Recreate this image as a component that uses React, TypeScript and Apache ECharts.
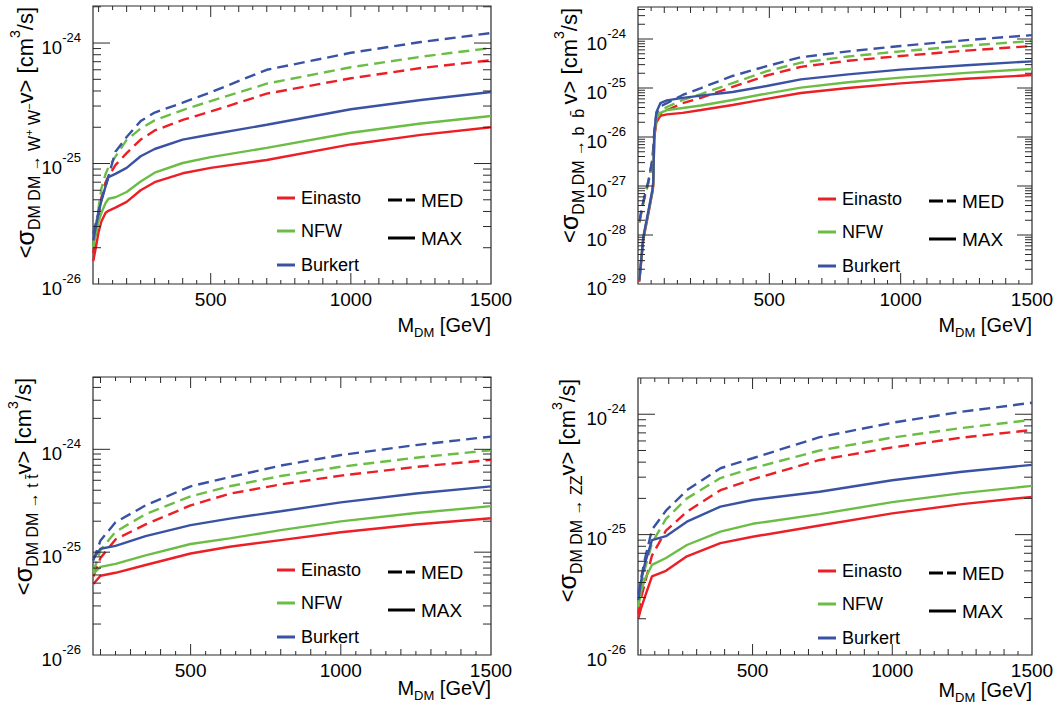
import React, { useEffect, useRef } from "react";
import * as echarts from "echarts";

const FONT = "'Liberation Sans', Arial, Helvetica, sans-serif";
const RED = "#ec1f26";
const GREEN = "#6cbd45";
const BLUE = "#3a52a3";
const FRAME = "#2a2a2a";

// ---- DM DM -> W+ W- ----
const wwMass = [81, 90, 100, 110, 125, 135, 160, 200, 250, 300, 400, 500, 700, 1000, 1250, 1500];
const wwEinastoMed = [1.8e-26, 2.6e-26, 3.7e-26, 5.2e-26, 7.0e-26, 7.8e-26, 9.7e-26, 1.22e-25, 1.58e-25, 1.88e-25, 2.3e-25, 2.7e-25, 3.8e-25, 5.1e-25, 6.2e-25, 7.2e-25];
const wwNfwMed = [2.1e-26, 3.0e-26, 4.3e-26, 6.2e-26, 8.2e-26, 9.3e-26, 1.14e-25, 1.57e-25, 1.95e-25, 2.28e-25, 2.78e-25, 3.3e-25, 4.6e-25, 6.3e-25, 7.7e-25, 9.1e-25];
const wwBurkertMed = [2.6e-26, 3.2e-26, 4.0e-26, 5.0e-26, 6.5e-26, 7.8e-26, 1.25e-25, 1.66e-25, 2.25e-25, 2.65e-25, 3.2e-25, 3.9e-25, 6.0e-25, 8.3e-25, 1.02e-24, 1.21e-24];
const wwEinastoMax = [1.55e-26, 2.0e-26, 2.7e-26, 3.3e-26, 3.9e-26, 4.05e-26, 4.3e-26, 4.8e-26, 6.0e-26, 7.0e-26, 8.3e-26, 9.2e-26, 1.07e-25, 1.44e-25, 1.73e-25, 2.0e-25];
const wwNfwMax = [2.0e-26, 2.6e-26, 3.3e-26, 3.9e-26, 4.7e-26, 5.1e-26, 5.25e-26, 5.8e-26, 7.1e-26, 8.4e-26, 1.01e-25, 1.13e-25, 1.35e-25, 1.8e-25, 2.15e-25, 2.48e-25];
const wwBurkertMax = [2.3e-26, 3.0e-26, 3.9e-26, 4.9e-26, 6.5e-26, 7.7e-26, 8.2e-26, 9.2e-26, 1.15e-25, 1.32e-25, 1.58e-25, 1.74e-25, 2.1e-25, 2.82e-25, 3.37e-25, 3.92e-25];

// ---- DM DM -> b bbar ----
const bbMass = [5, 20, 40, 55, 58, 62, 70, 85, 110, 170, 240, 360, 490, 620, 800, 1000, 1250, 1500];
const bbEinastoMed = [1.8e-28, 4.5e-28, 1.2e-27, 3.2e-27, 5.0e-27, 1.1e-26, 2.2e-26, 2.9e-26, 3.5e-26, 4.9e-26, 6.3e-26, 1.05e-25, 1.8e-25, 2.7e-25, 3.6e-25, 4.5e-25, 5.8e-25, 7.2e-25];
const bbNfwMed = [1.8e-28, 4.6e-28, 1.25e-27, 3.4e-27, 5.3e-27, 1.15e-26, 2.5e-26, 3.3e-26, 4.1e-26, 5.7e-26, 7.5e-26, 1.26e-25, 2.2e-25, 3.3e-25, 4.4e-25, 5.6e-25, 7.3e-25, 9.1e-25];
const bbBurkertMed = [1.9e-28, 4.8e-28, 1.3e-27, 3.6e-27, 5.8e-27, 1.3e-26, 3.0e-26, 4.2e-26, 4.9e-26, 7.2e-26, 1.0e-25, 1.76e-25, 2.8e-25, 4.25e-25, 5.6e-25, 7.2e-25, 9.5e-25, 1.2e-24];
const bbEinastoMax = [1.1e-29, 7.9e-29, 2.8e-28, 7.5e-28, 1.0e-27, 1.0e-26, 2.0e-26, 2.7e-26, 2.9e-26, 3.1e-26, 3.55e-26, 4.5e-26, 6.0e-26, 7.9e-26, 1.0e-25, 1.24e-25, 1.54e-25, 1.84e-25];
const bbNfwMax = [1.2e-29, 8.5e-29, 3.0e-28, 8.0e-28, 1.1e-27, 1.1e-26, 2.4e-26, 3.1e-26, 3.55e-26, 3.9e-26, 4.4e-26, 5.7e-26, 7.7e-26, 1.02e-25, 1.31e-25, 1.63e-25, 2.04e-25, 2.45e-25];
const bbBurkertMax = [1.2e-29, 9.0e-29, 3.2e-28, 8.5e-28, 1.2e-27, 1.2e-26, 3.2e-26, 4.9e-26, 5.6e-26, 6.3e-26, 7.0e-26, 8.3e-26, 1.1e-25, 1.5e-25, 1.9e-25, 2.37e-25, 2.92e-25, 3.5e-25];

// ---- DM DM -> t tbar ----
const ttMass = [176, 200, 250, 350, 500, 630, 800, 1000, 1250, 1500];
const ttEinastoMed = [5.8e-26, 8.8e-26, 1.33e-25, 1.86e-25, 2.85e-25, 3.7e-25, 4.56e-25, 5.55e-25, 6.74e-25, 7.9e-25];
const ttNfwMed = [6.4e-26, 1.05e-25, 1.58e-25, 2.34e-25, 3.49e-25, 4.37e-25, 5.5e-25, 6.77e-25, 8.29e-25, 9.8e-25];
const ttBurkertMed = [8.3e-26, 1.3e-25, 1.95e-25, 2.85e-25, 4.37e-25, 5.37e-25, 6.95e-25, 8.8e-25, 1.1e-24, 1.33e-24];
const ttEinastoMax = [4.9e-26, 5.9e-26, 6.3e-26, 7.5e-26, 9.7e-26, 1.13e-25, 1.31e-25, 1.56e-25, 1.86e-25, 2.14e-25];
const ttNfwMax = [6.2e-26, 7.2e-26, 7.7e-26, 9.3e-26, 1.2e-25, 1.36e-25, 1.64e-25, 1.99e-25, 2.4e-25, 2.8e-25];
const ttBurkertMax = [8.7e-26, 1.08e-25, 1.15e-25, 1.43e-25, 1.83e-25, 2.12e-25, 2.5e-25, 3.05e-25, 3.72e-25, 4.36e-25];

// ---- DM DM -> Z Z ----
const zzMass = [91, 100, 115, 140, 190, 265, 385, 500, 740, 1000, 1250, 1500];
const zzEinastoMed = [2.2e-26, 2.9e-26, 4.0e-26, 6.7e-26, 1.08e-25, 1.55e-25, 2.34e-25, 2.88e-25, 4.17e-25, 5.3e-25, 6.4e-25, 7.4e-25];
const zzNfwMed = [2.6e-26, 3.6e-26, 5.2e-26, 8.5e-26, 1.35e-25, 2.0e-25, 2.95e-25, 3.56e-25, 5.0e-25, 6.4e-25, 7.7e-25, 8.97e-25];
const zzBurkertMed = [3.2e-26, 4.2e-26, 6.3e-26, 1.1e-25, 1.58e-25, 2.34e-25, 3.56e-25, 4.31e-25, 6.45e-25, 8.5e-25, 1.05e-24, 1.245e-24];
const zzEinastoMax = [2.0e-26, 2.4e-26, 3.05e-26, 4.5e-26, 5.0e-26, 6.6e-26, 8.5e-26, 9.6e-26, 1.19e-25, 1.5e-25, 1.79e-25, 2.06e-25];
const zzNfwMax = [2.5e-26, 3.3e-26, 4.3e-26, 5.6e-26, 6.4e-26, 8.2e-26, 1.06e-25, 1.23e-25, 1.48e-25, 1.86e-25, 2.21e-25, 2.54e-25];
const zzBurkertMax = [2.86e-26, 4.0e-26, 5.8e-26, 9.0e-26, 9.7e-26, 1.28e-25, 1.71e-25, 1.94e-25, 2.27e-25, 2.83e-25, 3.33e-25, 3.8e-25];

const profileNames = ["Einasto", "NFW", "Burkert"];
const profileColors = [RED, GREEN, BLUE];
const xTickLabels = [500, 1000, 1500];
const decadeLabels = [-29, -28, -27, -26, -25, -24];

type Panel = {
  mass: number[];
  med: number[][];
  max: number[][];
  xMin: number;
  yMin: number;
  yMax: number;
  grid: { left: number; top: number; width: number; height: number };
  title: string;
  titleX: number;
  xTitleY: number;
  majorLen: number;
  minorLen: number;
};

const X_MAX = 1500;

const panels: Panel[] = [
  {
    mass: wwMass,
    med: [wwEinastoMed, wwNfwMed, wwBurkertMed],
    max: [wwEinastoMax, wwNfwMax, wwBurkertMax],
    xMin: 80, yMin: 1e-26, yMax: 2.03e-24,
    grid: { left: 93, top: 6, width: 398, height: 278 },
    title: "{m|<}{g|σ}{sub|DM DM → W}{ss|+}{sub| W}{ss|−}{m|v> [cm}{sup|3}{m|/s]}",
    titleX: 25, xTitleY: 325, majorLen: 17, minorLen: 8,
  },
  {
    mass: bbMass,
    med: [bbEinastoMed, bbNfwMed, bbBurkertMed],
    max: [bbEinastoMax, bbNfwMax, bbBurkertMax],
    xMin: 0, yMin: 1e-29, yMax: 4.5e-24,
    grid: { left: 638, top: 7, width: 394, height: 277 },
    title: "{m|<}{g|σ}{sub|DM DM → b  b\u0304 }{m|v> [cm}{sup|3}{m|/s]}",
    titleX: 569, xTitleY: 325, majorLen: 15, minorLen: 7,
  },
  {
    mass: ttMass,
    med: [ttEinastoMed, ttNfwMed, ttBurkertMed],
    max: [ttEinastoMax, ttNfwMax, ttBurkertMax],
    xMin: 175, yMin: 1e-26, yMax: 5.05e-24,
    grid: { left: 93, top: 377, width: 398, height: 278 },
    title: "{m|<}{g|σ}{sub|DM DM → t t\u0304}{m|v> [cm}{sup|3}{m|/s]}",
    titleX: 23, xTitleY: 688, majorLen: 17, minorLen: 8,
  },
  {
    mass: zzMass,
    med: [zzEinastoMed, zzNfwMed, zzBurkertMed],
    max: [zzEinastoMax, zzNfwMax, zzBurkertMax],
    xMin: 90, yMin: 1e-26, yMax: 2.0e-24,
    grid: { left: 638, top: 378, width: 394, height: 277 },
    title: "{m|<}{g|σ}{sub|DM DM → ZZ}{m|v> [cm}{sup|3}{m|/s]}",
    titleX: 567, xTitleY: 690, majorLen: 17, minorLen: 8,
  },
];

const titleRich = {
  m: { fontSize: 22, lineHeight: 34, verticalAlign: "middle", fontFamily: FONT, fill: "#000" },
  g: { fontSize: 25, lineHeight: 34, verticalAlign: "middle", fontFamily: FONT, fill: "#000" },
  sub: { fontSize: 16, lineHeight: 16, verticalAlign: "bottom", fontFamily: FONT, fill: "#000" },
  ss: { fontSize: 11, lineHeight: 11, verticalAlign: "bottom", padding: [0, 0, 8, 0], fontFamily: FONT, fill: "#000" },
  sup: { fontSize: 14, lineHeight: 14, verticalAlign: "top", fontFamily: FONT, fill: "#000" },
};

const xTitleRich = {
  m: { fontSize: 20, lineHeight: 28, verticalAlign: "middle", fontFamily: FONT, fill: "#000" },
  sub: { fontSize: 13, lineHeight: 13, verticalAlign: "bottom", fontFamily: FONT, fill: "#000" },
};

function buildOption() {
  const grid: any[] = [];
  const xAxis: any[] = [];
  const yAxis: any[] = [];
  const series: any[] = [];
  const graphic: any[] = [];

  panels.forEach((p, i) => {
    grid.push({
      ...p.grid,
      show: true,
      borderColor: FRAME,
      borderWidth: 1.2,
      backgroundColor: "transparent",
      containLabel: false,
      outerBoundsMode: "none",
    });
    xAxis.push({
      type: "value",
      gridIndex: i,
      min: p.xMin,
      max: X_MAX,
      axisLine: { show: false },
      axisTick: { show: false },
      splitLine: { show: false },
      axisLabel: { show: false },
    });
    yAxis.push({
      type: "log",
      logBase: 10,
      gridIndex: i,
      min: p.yMin,
      max: p.yMax,
      axisLine: { show: false },
      axisTick: { show: false },
      splitLine: { show: false },
      axisLabel: { show: false },
    });

    // curves: dashed = MED, solid = MAX
    [p.med, p.max].forEach((group, gi) => {
      group.forEach((vals, k) => {
        series.push({
          type: "line",
          name: `${profileNames[k]} ${gi ? "MAX" : "MED"}`,
          xAxisIndex: i,
          yAxisIndex: i,
          data: p.mass.map((m, j) => [m, vals[j]]),
          showSymbol: false,
          symbol: "none",
          silent: true,
          z: 3,
          lineStyle: { color: profileColors[k], width: 2.4, type: gi ? "solid" : [11, 6] },
          itemStyle: { color: profileColors[k] },
        });
      });
    });

    // inward ticks on all four sides of the frame, plus the tick labels
    series.push({
      type: "custom",
      xAxisIndex: i,
      yAxisIndex: i,
      silent: true,
      clip: false,
      z: 5,
      data: [[p.xMin, p.yMin]],
      renderItem: (_params: any, api: any) => {
        const [x0, y0] = api.coord([p.xMin, p.yMin]);
        const [x1, y1] = api.coord([X_MAX, p.yMax]);
        const children: any[] = [];
        const seg = (a: number, b: number, c: number, d: number) =>
          children.push({
            type: "line",
            shape: { x1: a, y1: b, x2: c, y2: d },
            style: { stroke: FRAME, lineWidth: 1 },
          });
        const txt = (x: number, y: number, s: string, size: number, align: string, va: string) =>
          children.push({
            type: "text",
            x,
            y,
            style: { text: s, fontSize: size, fontFamily: FONT, fill: "#000", align, verticalAlign: va },
          });
        for (let v = Math.ceil(p.xMin / 50) * 50; v < X_MAX; v += 50) {
          if (v <= p.xMin) continue;
          const len = v % 500 === 0 ? 11 : v % 100 === 0 ? 6 : 4;
          const px = api.coord([v, p.yMin])[0];
          seg(px, y0, px, y0 - len);
          seg(px, y1, px, y1 + len);
        }
        xTickLabels.forEach((v) => {
          const px = api.coord([v, p.yMin])[0];
          txt(px, y0 + 6, String(v), 19, "center", "top");
        });
        const eLo = Math.floor(Math.log10(p.yMin));
        const eHi = Math.ceil(Math.log10(p.yMax));
        for (let e = eLo; e <= eHi; e++) {
          for (let k = 1; k <= 9; k++) {
            const v = k * Math.pow(10, e);
            if (v <= p.yMin * 1.0001 || v >= p.yMax) continue;
            const len = k === 1 ? p.majorLen : p.minorLen;
            const py = api.coord([p.xMin, v])[1];
            seg(x0, py, x0 + len, py);
            seg(x1, py, x1 - len, py);
          }
        }
        // decade labels: base "10" with a raised exponent
        decadeLabels.forEach((e) => {
          const v = Math.pow(10, e);
          if (v < p.yMin * 0.999 || v > p.yMax) return;
          const py = api.coord([p.xMin, v])[1];
          txt(x0 - 12, py - 6, String(e), 13, "right", "middle");
          txt(x0 - 31, py + 4, "10", 18.5, "right", "middle");
        });
        return { type: "group", children };
      },
    });

    const right = p.grid.left + p.grid.width;
    const dx = right - 491;
    const dy = p.grid.top - 6 + (i >= 2 ? 1 : 0);

    // y-axis title, rotated, top aligned
    graphic.push({
      type: "text",
      x: p.titleX,
      y: p.grid.top + 1,
      rotation: Math.PI / 2,
      silent: true,
      style: {
        text: p.title,
        rich: titleRich,
        align: "right",
        verticalAlign: "middle",
        fontFamily: FONT,
        fill: "#000",
      },
    });

    // x-axis title
    graphic.push({
      type: "text",
      x: right,
      y: p.xTitleY,
      silent: true,
      style: {
        text: "{m|M}{sub|DM}{m| [GeV]}",
        rich: xTitleRich,
        align: "right",
        verticalAlign: "middle",
        fontFamily: FONT,
        fill: "#000",
      },
    });

    // legend: halo profiles
    const rowY = [198, 231, 265];
    profileNames.forEach((name, k) => {
      graphic.push({
        type: "line",
        silent: true,
        shape: { x1: 277 + dx, y1: rowY[k] + dy, x2: 295 + dx, y2: rowY[k] + dy },
        style: { stroke: profileColors[k], lineWidth: 3 },
      });
      graphic.push({
        type: "text",
        silent: true,
        x: 301 + dx,
        y: rowY[k] + dy,
        style: { text: name, fontSize: 18, fontFamily: FONT, fill: "#000", align: "left", verticalAlign: "middle" },
      });
    });
    // legend: line styles
    const styleRows = [
      { label: "MED", y: 200, dash: [14, 4] },
      { label: "MAX", y: 238, dash: null },
    ];
    styleRows.forEach((r) => {
      graphic.push({
        type: "line",
        silent: true,
        shape: { x1: 388 + dx, y1: r.y + dy, x2: 415 + dx, y2: r.y + dy },
        style: { stroke: "#000", lineWidth: 3, lineDash: r.dash || undefined },
      });
      graphic.push({
        type: "text",
        silent: true,
        x: 421 + dx,
        y: r.y + dy,
        style: { text: r.label, fontSize: 19, fontFamily: FONT, fill: "#000", align: "left", verticalAlign: "middle" },
      });
    });
  });

  return {
    animation: false,
    backgroundColor: "#fff",
    textStyle: { fontFamily: FONT },
    grid,
    xAxis,
    yAxis,
    series,
    graphic,
  };
}

export default function App() {
  const ref = useRef<HTMLDivElement>(null);
  useEffect(() => {
    if (!ref.current) return;
    const chart = echarts.init(ref.current, undefined, { renderer: "svg" });
    chart.setOption(buildOption() as any);
    return () => chart.dispose();
  }, []);
  return (
    <div
      ref={ref}
      style={{ position: "absolute", left: 0, top: 0, width: 1064, height: 718, background: "#fff" }}
    />
  );
}
